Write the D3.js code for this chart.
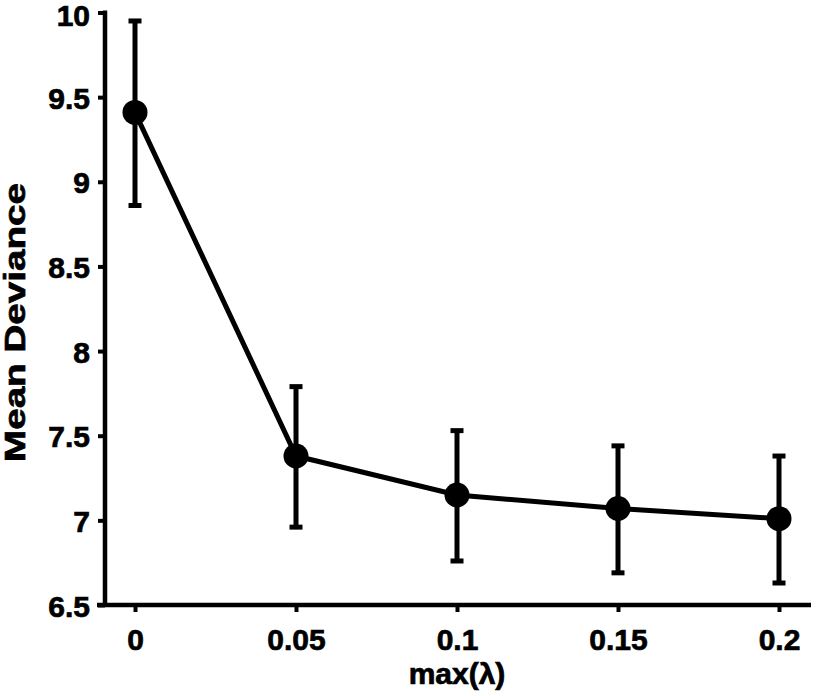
<!DOCTYPE html>
<html>
<head>
<meta charset="utf-8">
<script src="https://cdn.jsdelivr.net/npm/d3@7"></script>
<style>
  html, body { margin: 0; padding: 0; background: #fff; }
  svg { display: block; font-family: "Liberation Sans", Arial, sans-serif; font-weight: bold; }
  text { stroke: #000; stroke-width: 0.7px; fill: #000; }
</style>
</head>
<body>
<div id="chart"></div>
<script>
// Data
const lambdas = [0, 0.05, 0.1, 0.15, 0.2];
const meanDeviance = [9.41, 7.38, 7.15, 7.07, 7.01];
const errLow = [8.86, 6.96, 6.76, 6.69, 6.63];
const errHigh = [9.95, 7.79, 7.53, 7.44, 7.38];
const xTicks = [0, 0.05, 0.1, 0.15, 0.2];
const yTicks = [6.5, 7, 7.5, 8, 8.5, 9, 9.5, 10];

const width = 816, height = 696;

const x = d3.scaleLinear().domain([0, 0.2]).range([135, 779]);
const y = d3.scaleLinear().domain([6.5, 10]).range([605, 12.5]);

const svg = d3.select("#chart").append("svg")
  .attr("width", width)
  .attr("height", height);

// Axes
const yAxis = svg.append("g")
  .attr("transform", "translate(105,0)")
  .call(d3.axisLeft(y).tickValues(yTicks).tickSize(7).tickSizeOuter(0)
    .tickFormat(d => d3.format("")(d)));
const xAxis = svg.append("g")
  .attr("transform", "translate(0,605)")
  .call(d3.axisBottom(x).tickValues(xTicks).tickSize(7).tickSizeOuter(0)
    .tickFormat(d => d3.format("")(d)));

[yAxis, xAxis].forEach(g => {
  g.select(".domain").remove();
  g.selectAll(".tick line").attr("stroke", "#000").attr("stroke-width", 4);
  g.selectAll(".tick text")
    .attr("fill", "#000")
    .style("font-size", "30px")
    .style("font-weight", "bold")
    .style("font-family", "'Liberation Sans', Arial, sans-serif");
});
yAxis.selectAll(".tick text").attr("x", -15).attr("dy", "0.37em");
yAxis.selectAll(".tick text").filter(d => d === 10).attr("dy", "0.42em");
xAxis.selectAll(".tick text").attr("y", 24).attr("dy", "0.71em");

// Axis lines
svg.append("line")
  .attr("x1", 105).attr("x2", 105)
  .attr("y1", y(10) - 2).attr("y2", 607)
  .attr("stroke", "#000").attr("stroke-width", 4.5);
svg.append("line")
  .attr("x1", 97).attr("x2", 811)
  .attr("y1", 605).attr("y2", 605)
  .attr("stroke", "#000").attr("stroke-width", 4.5);

// Axis titles
svg.append("text")
  .attr("transform", `translate(24.5,${(183 + 462) / 2}) rotate(-90)`)
  .attr("text-anchor", "middle")
  .attr("textLength", 279)
  .attr("lengthAdjust", "spacingAndGlyphs")
  .style("font-size", "30px")
  .text("Mean Deviance");

svg.append("text")
  .attr("x", x(0.1))
  .attr("y", 684)
  .attr("text-anchor", "middle")
  .style("font-size", "30px")
  .text("max(λ)");

const data = lambdas.map((l, i) => ({ l, m: meanDeviance[i], lo: errLow[i], hi: errHigh[i] }));

// Error bars
const eb = svg.append("g").attr("stroke", "#000").attr("stroke-width", 5);
eb.selectAll("line.v").data(data).enter().append("line")
  .attr("class", "v")
  .attr("x1", d => x(d.l)).attr("x2", d => x(d.l))
  .attr("y1", d => y(d.hi)).attr("y2", d => y(d.lo));
eb.selectAll("line.cap-hi").data(data).enter().append("line")
  .attr("x1", d => x(d.l) - 6.5).attr("x2", d => x(d.l) + 6.5)
  .attr("y1", d => y(d.hi)).attr("y2", d => y(d.hi));
eb.selectAll("line.cap-lo").data(data).enter().append("line")
  .attr("x1", d => x(d.l) - 6.5).attr("x2", d => x(d.l) + 6.5)
  .attr("y1", d => y(d.lo)).attr("y2", d => y(d.lo));

// Mean line
svg.append("path")
  .datum(data)
  .attr("fill", "none")
  .attr("stroke", "#000")
  .attr("stroke-width", 5)
  .attr("d", d3.line().x(d => x(d.l)).y(d => y(d.m)));

// Markers
svg.selectAll("circle").data(data).enter().append("circle")
  .attr("cx", d => x(d.l))
  .attr("cy", d => y(d.m))
  .attr("r", 12.5)
  .attr("fill", "#000");
</script>
</body>
</html>
